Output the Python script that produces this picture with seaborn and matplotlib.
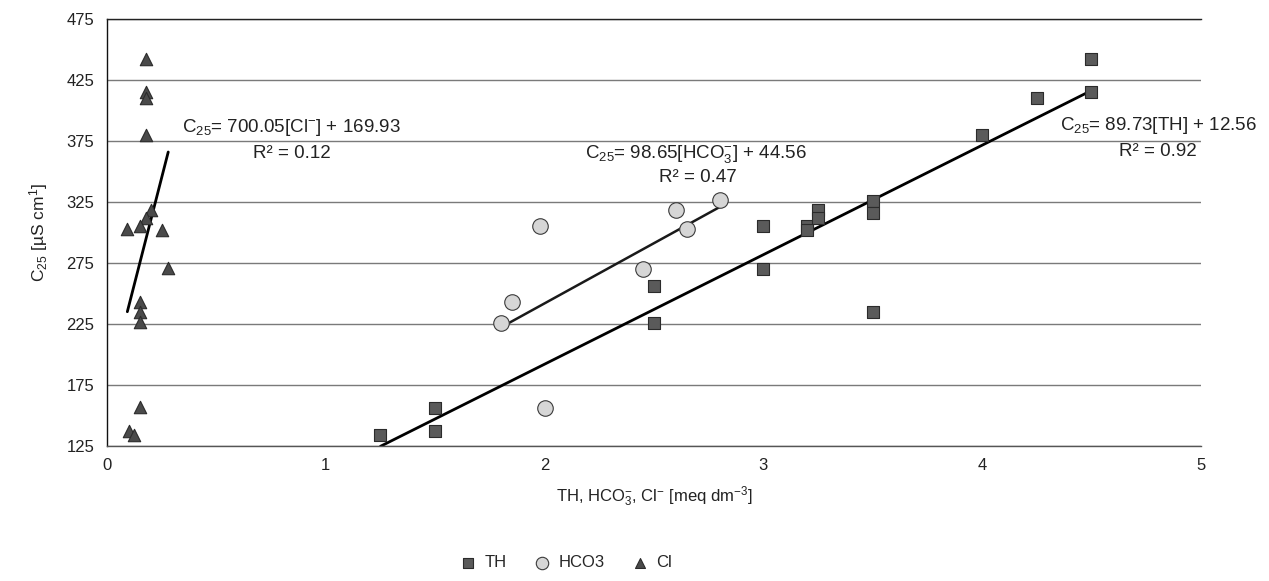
import matplotlib
matplotlib.use("Agg")
import matplotlib.pyplot as plt
import seaborn as sns
import numpy as np
import pandas as pd

sns.set_theme(style="white")
plt.rcParams['font.family'] = ['Liberation Sans', 'DejaVu Sans']
plt.rcParams['mathtext.fontset'] = 'custom'
plt.rcParams['mathtext.rm'] = 'Liberation Sans'
plt.rcParams['mathtext.it'] = 'Liberation Sans'

# data
th_x = [1.25, 1.5, 1.5, 2.5, 2.5, 3.0, 3.0, 3.2, 3.2, 3.25, 3.25, 3.5, 3.5, 3.5, 4.0, 4.25, 4.5, 4.5]
th_y = [134, 156, 137, 256, 226, 305, 270, 305, 302, 318, 312, 326, 316, 235, 380, 410, 442, 415]

hco3_x = [1.80, 1.85, 1.98, 2.0, 2.45, 2.60, 2.65, 2.80]
hco3_y = [226, 243, 305, 156, 270, 318, 303, 327]

cl_x = [0.178, 0.178, 0.178, 0.178, 0.20, 0.178, 0.093, 0.15, 0.25, 0.28, 0.15, 0.15, 0.15, 0.15, 0.10, 0.125]
cl_y = [442, 415, 410, 380, 318, 312, 303, 305, 302, 271, 243, 235, 227, 157, 137, 134]

# trendline coefficients (slope, intercept) as printed on the chart
th_fit = (89.73, 12.56)
hco3_fit = (98.65, 44.56)
cl_fit = (700.05, 169.93)

th_df = pd.DataFrame({'x': th_x, 'y': th_y})
hco3_df = pd.DataFrame({'x': hco3_x, 'y': hco3_y})
cl_df = pd.DataFrame({'x': cl_x, 'y': cl_y})

fig = plt.figure(figsize=(12.69, 5.81), dpi=100)
ax = fig.add_axes([0.0843, 0.2324, 0.862, 0.735])

for df, fit, lw, col in [(th_df, th_fit, 2.0, '#000000'),
                         (hco3_df, hco3_fit, 1.8, '#1a1a1a'),
                         (cl_df, cl_fit, 2.0, '#000000')]:
    xs = np.array([df['x'].min(), df['x'].max()])
    line = pd.DataFrame({'x': xs, 'y': fit[0] * xs + fit[1]})
    sns.lineplot(data=line, x='x', y='y', ax=ax, color=col, linewidth=lw, zorder=2)

sns.scatterplot(data=th_df, x='x', y='y', ax=ax, marker='s', s=70, color='#5a5a5a',
                edgecolor='#2b2b2b', linewidth=0.8, label='TH', zorder=3)
sns.scatterplot(data=hco3_df, x='x', y='y', ax=ax, marker='o', s=125, color='#d6d6d6',
                edgecolor='#3a3a3a', linewidth=0.8, label='HCO3', zorder=3)
sns.scatterplot(data=cl_df, x='x', y='y', ax=ax, marker='^', s=80, color='#4a4a4a',
                edgecolor='#2b2b2b', linewidth=0.8, label='Cl', zorder=3)

ax.set_xlim(0, 5)
ax.set_ylim(125, 475)
ax.set_xticks(range(0, 6))
ax.set_yticks(range(125, 476, 50))
ax.yaxis.grid(True, color='#7a7a7a', linewidth=1.0)
ax.xaxis.grid(False)
ax.set_axisbelow(True)
ax.spines['right'].set_visible(False)
ax.spines['top'].set_color('#222222')
ax.spines['left'].set_color('#111111')
ax.spines['bottom'].set_color('#555555')
for sp in ax.spines.values():
    sp.set_linewidth(1.0)
ax.tick_params(axis='both', direction='out', length=6, width=1, color='#333333',
               labelsize=12, labelcolor='#222222', pad=3)

ax.set_xlabel(r'TH, HCO$_3^{-}$, Cl$^{-}$ [meq dm$^{-3}$]', fontsize=12, color='#222222', labelpad=8)
ax.set_ylabel(r'C$_{25}$ [µS cm$^{1}$]', fontsize=12.5, color='#222222', labelpad=12)

tk = dict(fontsize=13.5, color='#222222', va='center')
ax.text(0.343, 386, r'C$_{25}$= 700.05[Cl$^{-}$] + 169.93', ha='left', **tk)
ax.text(0.846, 365, 'R² = 0.12', ha='center', **tk)
ax.text(2.185, 364, r'C$_{25}$= 98.65[HCO$_3^{-}$] + 44.56', ha='left', **tk)
ax.text(2.703, 345, 'R² = 0.47', ha='center', **tk)
ax.text(4.356, 388, r'C$_{25}$= 89.73[TH] + 12.56', ha='left', **tk)
ax.text(4.98, 366, 'R² = 0.92', ha='right', **tk)

handles, labels = ax.get_legend_handles_labels()
ax.get_legend().remove()
fig.legend(handles, labels, loc='center', bbox_to_anchor=(0.446, 0.032), ncol=3,
           frameon=False, fontsize=12, handlelength=1.0, handletextpad=0.5,
           columnspacing=1.6, markerscale=0.8)

fig.savefig("out.png", dpi=100)
